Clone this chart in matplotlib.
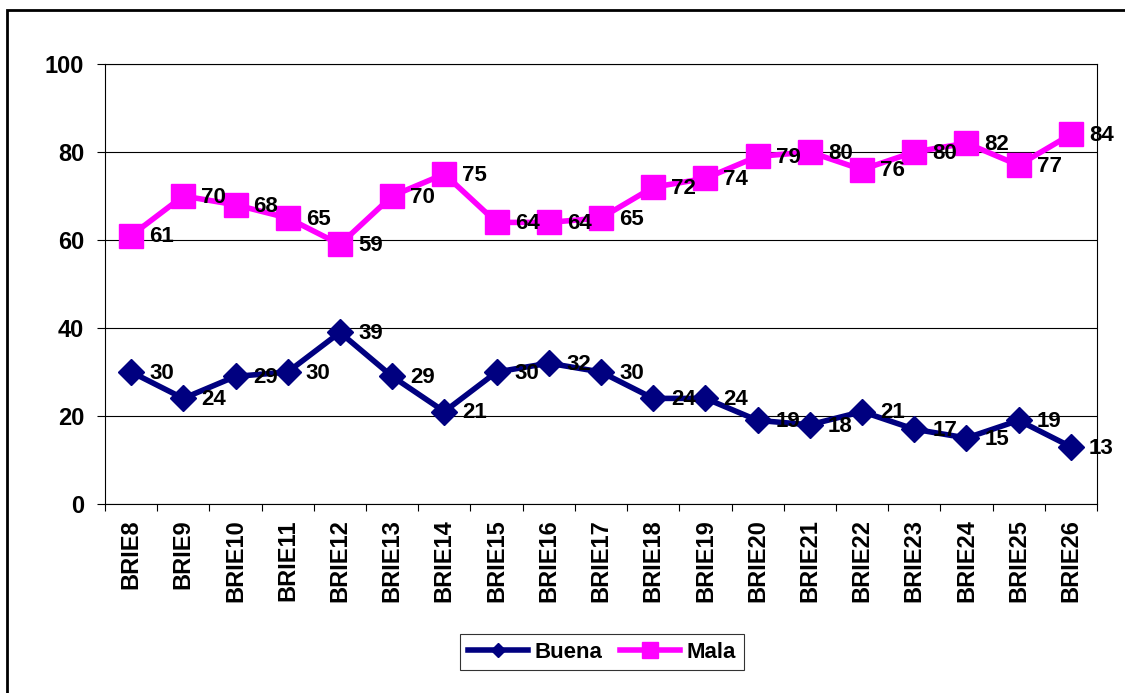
import numpy as np
import matplotlib.pyplot as plt
import matplotlib.patches as patches
from matplotlib.lines import Line2D

plt.rcParams['font.family'] = ['Liberation Sans', 'DejaVu Sans']
plt.rcParams['font.weight'] = 'bold'

# ---------------- data ----------------
categories = ["BRIE" + str(i) for i in range(8, 27)]
buena = [30, 24, 29, 30, 39, 29, 21, 30, 32, 30, 24, 24, 19, 18, 21, 17, 15, 19, 13]
mala = [61, 70, 68, 65, 59, 70, 75, 64, 64, 65, 72, 74, 79, 80, 76, 80, 82, 77, 84]

BUENA_COLOR = '#000080'
MALA_COLOR = '#FF00FF'

# ---------------- figure ----------------
fig = plt.figure(figsize=(11.25, 6.93), dpi=100)
ax = fig.add_axes([105 / 1125, 1 - 504 / 693, 992 / 1125, 440 / 693])

x = np.arange(len(categories))
ax.plot(x, buena, color=BUENA_COLOR, lw=4, marker='D', ms=13, zorder=3)
ax.plot(x, mala, color=MALA_COLOR, lw=4, marker='s', ms=17, zorder=3)

for series in (buena, mala):
    for xi, v in zip(x, series):
        ax.annotate(str(v), (xi, v), xytext=(13, -1), textcoords='offset points',
                    ha='left', va='center', fontsize=16, fontweight='bold', zorder=4)

ax.set_xlim(-0.5, len(categories) - 0.5)
ax.set_ylim(0, 100)
ax.set_yticks(range(0, 101, 20))
ax.yaxis.grid(True, color='black', lw=0.8)
ax.set_axisbelow(True)

ax.set_xticks(x)
ax.set_xticklabels(categories, rotation=90, fontsize=17, fontweight='bold')
ax.tick_params(axis='x', which='major', length=0, pad=11)
ax.set_xticks(np.arange(-0.5, len(categories)), minor=True)
ax.tick_params(axis='x', which='minor', length=5, width=0.8, direction='out')
ax.tick_params(axis='y', length=6, width=0.8, direction='out', labelsize=17, pad=9)
for lab in ax.get_yticklabels():
    lab.set_fontweight('bold')

for s in ax.spines.values():
    s.set_linewidth(0.8)
    s.set_color('black')

# legend markers are drawn smaller than in the plot
handles = [Line2D([], [], color=BUENA_COLOR, lw=4, marker='D', ms=7),
           Line2D([], [], color=MALA_COLOR, lw=4, marker='s', ms=11)]
leg = fig.legend(handles, ['Buena', 'Mala'], loc='center',
                 bbox_to_anchor=(602 / 1125, 1 - 652 / 693), ncol=2, fontsize=16,
                 frameon=True, fancybox=False, edgecolor='black',
                 handlelength=2.7, columnspacing=0.8, handletextpad=0.3,
                 borderpad=0.35, borderaxespad=0)
leg.get_frame().set_linewidth(0.8)
for t in leg.get_texts():
    t.set_fontweight('bold')

# outer chart border (clipped at right and bottom as in the original)
fig.patches.append(patches.Rectangle((7 / 1125, -0.1), 1.2, 1 - 10 / 693 + 0.1,
                                     transform=fig.transFigure, fill=False,
                                     lw=2, edgecolor='black'))

fig.savefig("out.png", dpi=100)
